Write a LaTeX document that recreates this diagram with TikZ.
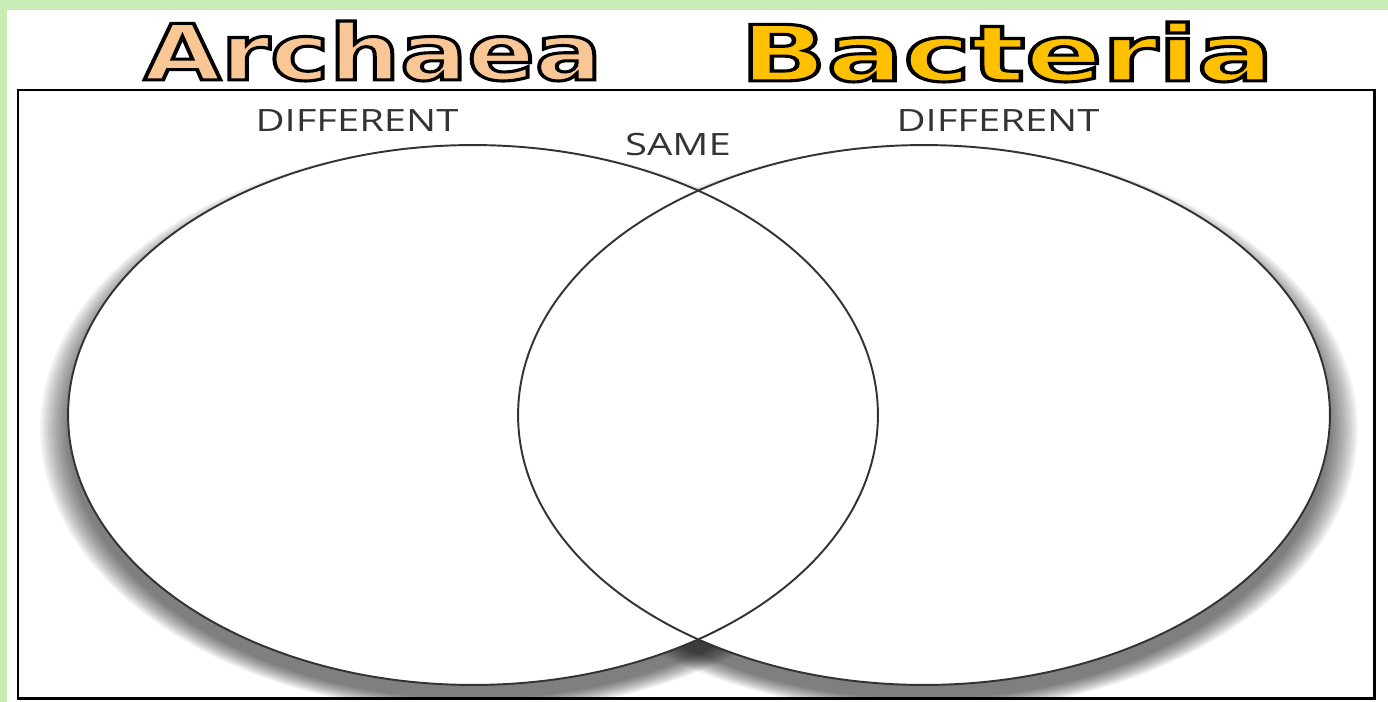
\documentclass[tikz,border=0pt]{standalone}
\usepackage{fontspec}
\usepackage{graphicx}
\usepackage{xcolor}
\setmainfont{Open Sans}
\newfontfamily\titlefont[FakeBold=4]{DejaVu Sans Bold}
\definecolor{archaeaorange}{HTML}{F9C795}
\definecolor{bacteriagold}{HTML}{FFC000}
\definecolor{framegreen}{HTML}{C8EDB4}
\definecolor{linegray}{HTML}{333333}
% black stroke round the filled title letters
\newcommand{\outlined}[1]{\special{pdf:literal direct 0 0 0 RG}#1}

\begin{document}
\begin{tikzpicture}[x=0.02cm, y=-0.02cm,
    title/.style={inner sep=0pt, font=\titlefont\fontsize{42}{42}\selectfont},
    side/.style={inner sep=0pt, text=linegray, font=\fontsize{17.5}{17.5}\selectfont}]
    \useasboundingbox (0,0) rectangle (1388,702);
    \fill[white] (0,0) rectangle (1388,702);
    \fill[framegreen] (0,0) rectangle (1388,10);
    \fill[framegreen] (0,0) rectangle (7,702);

    \node[title, text=archaeaorange] (archaea) at (373,51) {\scalebox{1.35}[1.05]{\outlined{Archaea}}};
    \node[title, text=bacteriagold] (bacteria) at (1007,52) {\scalebox{1.54}[1.05]{\outlined{Bacteria}}};

    % shadows under the two sets
    \begin{scope}
        \clip (18,90) rectangle (1374,698);
        \foreach \k in {0,...,14} {
            \fill[black, opacity=0.045] (473,429) ellipse [x radius=8.1cm+\k*0.04cm, y radius=5.4cm+\k*0.02cm];
            \fill[black, opacity=0.045] (924,429) ellipse [x radius=8.12cm+\k*0.04cm, y radius=5.4cm+\k*0.02cm];
        }
    \end{scope}

    \fill[white] (473,415) ellipse [x radius=8.1cm, y radius=5.4cm];
    \fill[white] (924,415) ellipse [x radius=8.12cm, y radius=5.4cm];
    \draw[linegray, line width=1.1pt] (473,415) ellipse [x radius=8.1cm, y radius=5.4cm];
    \draw[linegray, line width=1.1pt] (924,415) ellipse [x radius=8.12cm, y radius=5.4cm];

    \draw[line width=1.7pt] (18,90) rectangle (1374,698);

    \node[side] (diffleft) at (357,121) {\scalebox{1.3}[1]{DIFFERENT}};
    \node[side] (same) at (678,145) {\scalebox{1.3}[1]{SAME}};
    \node[side] (diffright) at (998,121) {\scalebox{1.3}[1]{DIFFERENT}};
\end{tikzpicture}
\end{document}
